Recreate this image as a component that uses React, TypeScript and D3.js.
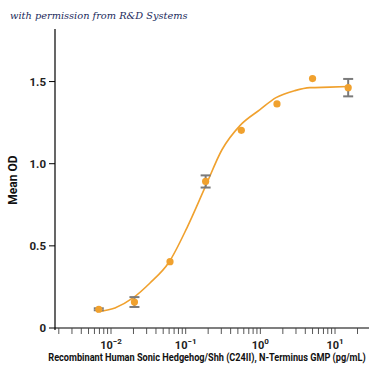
import React, { useLayoutEffect, useRef, useState } from "react";
import { scaleLog, scaleLinear, line, curveMonotoneX } from "d3";

// measured points (3-fold dilution series)
const conc = [0.00686, 0.0206, 0.0617, 0.185, 0.556, 1.67, 5, 15];
const meanOD = [0.114, 0.158, 0.404, 0.892, 1.203, 1.364, 1.518, 1.463];
const errOD: (number | null)[] = [0.006, 0.03, null, 0.037, null, null, null, 0.053];

// fitted curve
const fitConc = [0.0065, 0.0113, 0.0197, 0.0333, 0.0597, 0.104, 0.181, 0.306, 0.533, 0.989, 1.62, 2.9, 4.6, 8.55, 14.9];
const fitOD = [0.099, 0.122, 0.183, 0.274, 0.4, 0.61, 0.854, 1.085, 1.232, 1.329, 1.402, 1.445, 1.463, 1.466, 1.47];

const yTicks = [0, 0.5, 1.0, 1.5];
const yTickLabels = ["0", "0.5", "1.0", "1.5"];
const xDecades = [-2, -1, 0, 1];

const FONT = "'Liberation Sans Narrow', 'Roboto', sans-serif";
const ORANGE = "#f0a12e";
const GRAY = "#7b7b7b";
const X_LABEL = "Recombinant Human Sonic Hedgehog/Shh (C24II), N-Terminus GMP (pg/mL)";

export default function App() {
  const x = scaleLog().domain([Math.pow(10, -2.75), Math.pow(10, 1.455)]).range([55, 369]);
  const y = scaleLinear().domain([0, 1.82]).range([328, 29]);

  // squeeze the long x label to the reference width
  const labelRef = useRef<SVGTextElement>(null);
  const [sx, setSx] = useState(1);
  useLayoutEffect(() => {
    if (labelRef.current) {
      const w = labelRef.current.getComputedTextLength();
      if (w > 0) setSx(318 / w);
    }
  }, []);

  const minor: number[] = [];
  for (let d = -3; d <= 1; d++) {
    for (let m = 1; m <= 9; m++) {
      const v = m * Math.pow(10, d);
      if (v >= x.domain()[0] && v <= x.domain()[1]) minor.push(v);
    }
  }

  const fitPath = line<number>()
    .x((_, i) => x(fitConc[i]))
    .y((d) => y(d))
    .curve(curveMonotoneX)(fitOD);

  return (
    <div style={{ position: "absolute", left: 0, top: 0, width: 375, height: 375, background: "#fff" }}>
      <svg width={375} height={375}>
        <text x={10} y={19} fontFamily="'DejaVu Serif', serif" fontStyle="italic" fontSize={9.8} fill="#1b2a5c">
          with permission from R&amp;D Systems
        </text>

        {/* fit curve */}
        <path d={fitPath ?? ""} fill="none" stroke={ORANGE} strokeWidth={1.6} />

        {/* error bars */}
        {conc.map((c, i) => {
          const e = errOD[i];
          if (e == null) return null;
          const cx = x(c);
          return (
            <g key={"e" + i} stroke={GRAY} strokeWidth={2}>
              <line x1={cx} x2={cx} y1={y(meanOD[i] + e)} y2={y(meanOD[i] - e)} />
              <line x1={cx - 5} x2={cx + 5} y1={y(meanOD[i] + e)} y2={y(meanOD[i] + e)} />
              <line x1={cx - 5} x2={cx + 5} y1={y(meanOD[i] - e)} y2={y(meanOD[i] - e)} />
            </g>
          );
        })}

        {/* points */}
        {conc.map((c, i) => (
          <circle key={"p" + i} cx={x(c)} cy={y(meanOD[i])} r={3.6} fill={ORANGE} />
        ))}

        {/* y axis */}
        <line x1={55} x2={55} y1={y.range()[1]} y2={330} stroke="#000" strokeWidth={1.2} />
        {yTicks.map((t, i) => (
          <g key={"y" + i}>
            <line x1={49} x2={55} y1={y(t)} y2={y(t)} stroke="#000" strokeWidth={1} />
            <text x={46} y={y(t) + 4} textAnchor="end" fontFamily={FONT} fontWeight="bold" fontSize={11.5} fill="#222">
              {yTickLabels[i]}
            </text>
          </g>
        ))}
        <text
          transform={`translate(17,${y(0.9)}) rotate(-90)`}
          textAnchor="middle"
          fontFamily={FONT}
          fontWeight="bold"
          fontSize={12}
          fill="#111"
        >
          Mean OD
        </text>

        {/* x axis */}
        <line x1={55} x2={369} y1={328} y2={328} stroke="#000" strokeWidth={1.2} />
        {minor.map((v, i) => (
          <line key={"m" + i} x1={x(v)} x2={x(v)} y1={328} y2={334} stroke="#444" strokeWidth={0.9} />
        ))}
        {xDecades.map((d) => (
          <text key={"d" + d} x={x(Math.pow(10, d))} y={349} textAnchor="middle" fontFamily={FONT} fontWeight="bold" fontSize={11} fill="#222">
            10
            <tspan dy={-5} fontSize={8}>{d < 0 ? "\u2212" + Math.abs(d) : String(d)}</tspan>
          </text>
        ))}
        <g transform={`translate(207,361) scale(${sx},1)`}>
          <text ref={labelRef} x={0} y={0} textAnchor="middle" fontFamily={FONT} fontWeight="bold" fontSize={10} fill="#111">
            {X_LABEL}
          </text>
        </g>
      </svg>
    </div>
  );
}
